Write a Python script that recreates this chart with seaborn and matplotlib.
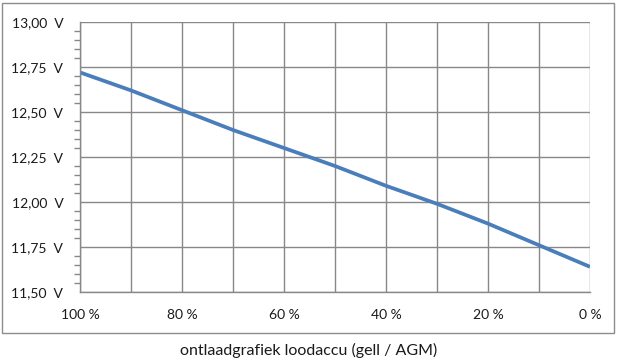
import matplotlib
matplotlib.use("Agg")
import matplotlib.pyplot as plt
from matplotlib.patches import Rectangle
from matplotlib.ticker import MultipleLocator, FuncFormatter
import pandas as pd
import seaborn as sns

# state of charge (%) and resting voltage (V)
charge = [100, 90, 80, 70, 60, 50, 40, 30, 20, 10, 0]
voltage = [12.72, 12.62, 12.51, 12.40, 12.30, 12.20, 12.09, 11.99, 11.88, 11.76, 11.64]
x_label = "ontlaadgrafiek loodaccu (gell / AGM)"

df = pd.DataFrame({"lading": charge, "spanning": voltage})

sns.set_theme(style="white")
plt.rcParams["font.family"] = ["Lato", "DejaVu Sans"]

fig = plt.figure(figsize=(6.2, 3.63), dpi=100)
ax = fig.add_axes([80 / 620, 1 - 292 / 363, 510 / 620, 270 / 363])

sns.lineplot(data=df, x="lading", y="spanning", ax=ax, color="#4a7ebb",
             linewidth=2.7, solid_capstyle="butt")

ax.set_xlim(100, 0)
ax.set_ylim(11.5, 13.0)

ax.xaxis.set_major_locator(MultipleLocator(10))
ax.xaxis.set_major_formatter(FuncFormatter(
    lambda v, p: f"{int(round(v))} %" if int(round(v)) % 20 == 0 else ""))
ax.yaxis.set_major_locator(MultipleLocator(0.25))
ax.yaxis.set_minor_locator(MultipleLocator(0.05))
ax.yaxis.set_major_formatter(FuncFormatter(
    lambda v, p: f"{v:.2f}".replace(".", ",") + "  V"))

grid_col = "#888888"
ax.grid(True, which="major", color=grid_col, linewidth=1.0)
for side in ["top", "right"]:
    ax.spines[side].set_visible(False)
for side in ["left", "bottom"]:
    ax.spines[side].set_color(grid_col)
    ax.spines[side].set_linewidth(1.0)

ax.tick_params(axis="both", which="both", direction="out", colors=grid_col,
               labelcolor="#1a1a1a", labelsize=10, width=1.0)
ax.tick_params(axis="y", which="major", length=4, pad=8)
ax.tick_params(axis="y", which="minor", length=4, left=True)
ax.tick_params(axis="x", which="major", length=4, pad=8)
ax.set_xlabel("")
ax.set_ylabel("")

# grey frame around the chart area
fig.patches.append(Rectangle((2 / 620, 1 - 333 / 363), 612 / 620, 330 / 363,
                             transform=fig.transFigure, fill=False,
                             edgecolor="#8c8c8c", linewidth=1.0))

fig.text(309 / 620, 1 - 350 / 363, x_label, ha="center", va="center",
         fontsize=11.5, color="#1a1a1a")

fig.savefig("out.png", dpi=100)
